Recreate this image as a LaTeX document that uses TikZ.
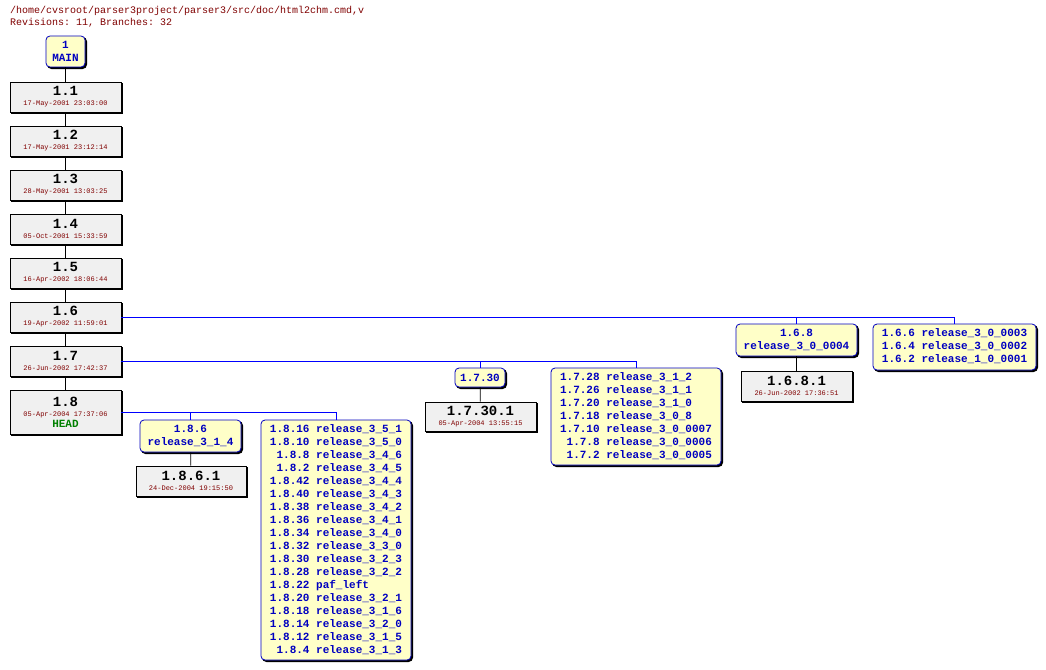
\documentclass[tikz,border=0pt]{standalone}
\usepackage{fontspec}
\setmonofont{Liberation Mono}
\usetikzlibrary{positioning}
\definecolor{revgray}{HTML}{F0F0F0}
\definecolor{tagyellow}{HTML}{FFFFC8}
\definecolor{datered}{HTML}{800000}
\definecolor{tagblue}{HTML}{0000C0}
\definecolor{headgreen}{HTML}{008000}
\newcommand\revtext[2]{{\fontsize{14}{14}\selectfont\bfseries #1}\\[-2pt]{\fontsize{7}{8}\selectfont\color{datered}#2}}
\begin{document}
\begin{tikzpicture}[
    x=1pt, y=-1pt, font=\ttfamily,
    shadowed/.style={preaction={draw=black, fill=black, line width=1pt, transform canvas={shift={(1.5pt,-1.5pt)}}}},
    rev/.style={shadowed, draw=black, fill=revgray, line width=0.8pt, minimum width=111pt, minimum height=30pt, inner sep=0pt, align=center},
    tag/.style={shadowed, draw=tagblue, fill=tagyellow, line width=0.8pt, rounded corners=4pt, inner sep=0pt, align=center, text=tagblue, font=\ttfamily\bfseries\fontsize{11}{13}\selectfont},
    trunk/.style={black, line width=0.8pt},
    branch/.style={blue, line width=0.8pt}
]
    \useasboundingbox[fill=white] (0,0) rectangle (1046,669);

    % === Header ===
    \node[anchor=north west, inner sep=0pt, text=datered, font=\ttfamily\fontsize{10}{12}\selectfont, align=left] (title) at (10,6)
        {/home/cvsroot/parser3project/parser3/src/doc/html2chm.cmd,v\\Revisions: 11, Branches: 32};

    % === Trunk ===
    \node[tag, minimum width=39pt, minimum height=31pt] (main) at (65.5,51.5) {1\\MAIN};
    \node[rev] (r11) at (65.5,97)  {\revtext{1.1}{17-May-2001 23:03:00}};
    \node[rev] (r12) at (65.5,141) {\revtext{1.2}{17-May-2001 23:12:14}};
    \node[rev] (r13) at (65.5,185) {\revtext{1.3}{28-May-2001 13:03:25}};
    \node[rev] (r14) at (65.5,229) {\revtext{1.4}{05-Oct-2001 15:33:59}};
    \node[rev] (r15) at (65.5,273) {\revtext{1.5}{16-Apr-2002 18:06:44}};
    \node[rev] (r16) at (65.5,317) {\revtext{1.6}{19-Apr-2002 11:59:01}};
    \node[rev] (r17) at (65.5,361) {\revtext{1.7}{26-Jun-2002 17:42:37}};
    \node[rev, minimum height=44pt] (r18) at (65.5,412)
        {\revtext{1.8}{05-Apr-2004 17:37:06}\\[-1pt]{\color{headgreen}\bfseries\fontsize{11}{12}\selectfont HEAD}};

    \draw[trunk] (main) -- (r11);
    \foreach \a/\b in {r11/r12, r12/r13, r13/r14, r14/r15, r15/r16, r16/r17, r17/r18}
        \draw[trunk] (\a) -- (\b);

    % === Branches of 1.6 ===
    \node[tag, minimum width=121pt, minimum height=32pt] (b168) at (796.5,340) {1.6.8\\release\_3\_0\_0004};
    \node[rev, minimum height=30pt] (r1681) at (796.5,386) {\revtext{1.6.8.1}{26-Jun-2002 17:36:51}};
    \node[tag, minimum width=163pt, minimum height=46pt] (b166) at (954.5,347)
        {\begin{tabular}{@{}r@{ }l@{}}1.6.6 & release\_3\_0\_0003\\1.6.4 & release\_3\_0\_0002\\1.6.2 & release\_1\_0\_0001\end{tabular}};
    \draw[branch] (r16.east) -| (b168.north);
    \draw[branch] (r16.east) -| (b166.north);
    \draw[trunk] (b168) -- (r1681);

    % === Branches of 1.7 ===
    \node[tag, minimum width=50pt, minimum height=19pt] (b1730) at (480,377.5) {1.7.30};
    \node[rev, minimum height=29pt] (r17301) at (480.5,416.5) {\revtext{1.7.30.1}{05-Apr-2004 13:55:15}};
    \node[tag, minimum width=170pt, minimum height=97pt] (b1728) at (636,416.5)
        {\begin{tabular}{@{}r@{ }l@{}}1.7.28 & release\_3\_1\_2\\1.7.26 & release\_3\_1\_1\\1.7.20 & release\_3\_1\_0\\1.7.18 & release\_3\_0\_8\\1.7.10 & release\_3\_0\_0007\\1.7.8 & release\_3\_0\_0006\\1.7.2 & release\_3\_0\_0005\end{tabular}};
    \draw[branch] (r17.east) -| (b1730.north);
    \draw[branch] (r17.east) -| (b1728.north);
    \draw[trunk] (b1730) -- (r17301);

    % === Branches of 1.8 ===
    \node[tag, minimum width=101pt, minimum height=32pt] (b186) at (190.5,436) {1.8.6\\release\_3\_1\_4};
    \node[rev, minimum width=110pt] (r1861) at (191,481) {\revtext{1.8.6.1}{24-Dec-2004 19:15:50}};
    \node[tag, minimum width=150pt, minimum height=240pt] (b1816) at (336,540)
        {\begin{tabular}{@{}r@{ }l@{}}1.8.16 & release\_3\_5\_1\\1.8.10 & release\_3\_5\_0\\1.8.8 & release\_3\_4\_6\\1.8.2 & release\_3\_4\_5\\1.8.42 & release\_3\_4\_4\\1.8.40 & release\_3\_4\_3\\1.8.38 & release\_3\_4\_2\\1.8.36 & release\_3\_4\_1\\1.8.34 & release\_3\_4\_0\\1.8.32 & release\_3\_3\_0\\1.8.30 & release\_3\_2\_3\\1.8.28 & release\_3\_2\_2\\1.8.22 & paf\_left\\1.8.20 & release\_3\_2\_1\\1.8.18 & release\_3\_1\_6\\1.8.14 & release\_3\_2\_0\\1.8.12 & release\_3\_1\_5\\1.8.4 & release\_3\_1\_3\end{tabular}};
    \draw[branch] (r18.east) -| (b186.north);
    \draw[branch] (r18.east) -| (b1816.north);
    \draw[trunk] (b186) -- (r1861);
\end{tikzpicture}
\end{document}
